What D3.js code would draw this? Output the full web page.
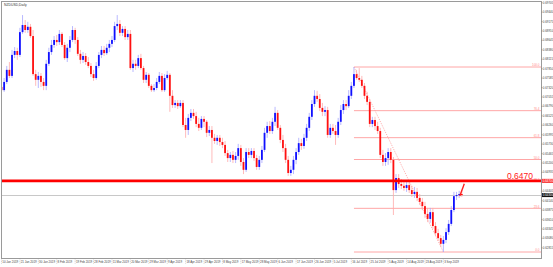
<!DOCTYPE html>
<html>
<head>
<meta charset="utf-8">
<script src="https://cdn.jsdelivr.net/npm/d3@7"></script>
<style>
  html, body { margin: 0; padding: 0; background: #fff; }
  svg { display: block; font-family: "Liberation Sans", Arial, sans-serif; }
</style>
</head>
<body>
<svg id="chart" width="553" height="267"></svg>
<script>
// NZDUSD daily candles, 10 Jan 2019 .. 12 Sep 2019
const symbol = "NZDUSD,Daily";
const firstDay = new Date(2019, 0, 10);
const lastDay = new Date(2019, 8, 13);

const opens = [
  0.6734,0.6725,0.6748,0.6782,0.6765,0.6824,0.6835,0.6824,0.6888,0.6908,
  0.6894,0.6903,0.6877,0.6770,0.6754,0.6765,0.6748,0.6737,0.6799,0.6832,
  0.6852,0.6866,0.6860,0.6883,0.6852,0.6815,0.6844,0.6866,0.6894,0.6866,
  0.6827,0.6810,0.6821,0.6804,0.6793,0.6770,0.6759,0.6793,0.6824,0.6838,
  0.6829,0.6844,0.6855,0.6866,0.6905,0.6911,0.6886,0.6897,0.6874,0.6883,
  0.6787,0.6799,0.6793,0.6815,0.6787,0.6754,0.6768,0.6737,0.6725,0.6731,
  0.6748,0.6765,0.6725,0.6759,0.6768,0.6709,0.6683,0.6689,0.6680,0.6689,
  0.6627,0.6613,0.6647,0.6661,0.6652,0.6630,0.6619,0.6644,0.6636,0.6605,
  0.6613,0.6591,0.6582,0.6591,0.6579,0.6571,0.6548,0.6534,0.6543,0.6529,
  0.6540,0.6562,0.6523,0.6501,0.6551,0.6543,0.6554,0.6534,0.6509,0.6529,
  0.6557,0.6605,0.6624,0.6610,0.6636,0.6661,0.6619,0.6585,0.6562,0.6529,
  0.6492,0.6501,0.6529,0.6551,0.6576,0.6568,0.6591,0.6619,0.6650,0.6686,
  0.6709,0.6700,0.6675,0.6664,0.6669,0.6599,0.6619,0.6610,0.6599,0.6636,
  0.6669,0.6686,0.6680,0.6709,0.6737,0.6770,0.6759,0.6754,0.6737,0.6709,
  0.6692,0.6630,0.6641,0.6624,0.6610,0.6543,0.6523,0.6534,0.6551,0.6529,
  0.6444,0.6478,0.6461,0.6456,0.6450,0.6458,0.6444,0.6433,0.6439,0.6422,
  0.6411,0.6399,0.6377,0.6363,0.6382,0.6343,0.6323,0.6309,0.6293,0.6304,
  0.6326,0.6349,0.6388,0.6427,0.6430,0.6433
];
const highs = [
  0.6742,0.6759,0.6793,0.6804,0.6838,0.6846,0.6844,0.6900,0.6936,0.6922,
  0.6917,0.6911,0.6894,0.6782,0.6776,0.6773,0.6759,0.6810,0.6844,0.6866,
  0.6877,0.6880,0.6894,0.6888,0.6860,0.6855,0.6877,0.6905,0.6900,0.6874,
  0.6838,0.6832,0.6829,0.6818,0.6801,0.6782,0.6804,0.6832,0.6849,0.6849,
  0.6855,0.6866,0.6877,0.6917,0.6936,0.6922,0.6905,0.6905,0.6894,0.6894,
  0.6810,0.6810,0.6824,0.6827,0.6793,0.6776,0.6773,0.6742,0.6742,0.6759,
  0.6776,0.6773,0.6770,0.6779,0.6773,0.6725,0.6697,0.6697,0.6697,0.6697,
  0.6647,0.6658,0.6672,0.6672,0.6664,0.6647,0.6652,0.6652,0.6641,0.6624,
  0.6624,0.6602,0.6599,0.6599,0.6591,0.6582,0.6557,0.6551,0.6554,0.6551,
  0.6574,0.6571,0.6534,0.6562,0.6562,0.6562,0.6562,0.6543,0.6540,0.6568,
  0.6619,0.6636,0.6638,0.6647,0.6678,0.6669,0.6627,0.6599,0.6574,0.6540,
  0.6512,0.6540,0.6562,0.6591,0.6588,0.6602,0.6630,0.6661,0.6697,0.6725,
  0.6723,0.6714,0.6689,0.6680,0.6678,0.6630,0.6630,0.6627,0.6647,0.6683,
  0.6697,0.6697,0.6725,0.6748,0.6790,0.6782,0.6787,0.6765,0.6745,0.6720,
  0.6700,0.6650,0.6650,0.6636,0.6619,0.6557,0.6548,0.6562,0.6562,0.6537,
  0.6489,0.6489,0.6475,0.6470,0.6472,0.6470,0.6456,0.6453,0.6450,0.6433,
  0.6422,0.6411,0.6394,0.6394,0.6394,0.6354,0.6335,0.6318,0.6315,0.6337,
  0.6360,0.6399,0.6439,0.6439,0.6442,0.6444
];
const lows = [
  0.6711,0.6720,0.6742,0.6759,0.6759,0.6815,0.6810,0.6818,0.6883,0.6886,
  0.6886,0.6872,0.6765,0.6737,0.6731,0.6734,0.6725,0.6725,0.6793,0.6824,
  0.6844,0.6849,0.6852,0.6846,0.6810,0.6804,0.6832,0.6860,0.6855,0.6821,
  0.6799,0.6801,0.6796,0.6787,0.6762,0.6751,0.6754,0.6787,0.6815,0.6821,
  0.6824,0.6832,0.6846,0.6860,0.6894,0.6877,0.6877,0.6866,0.6866,0.6782,
  0.6776,0.6782,0.6787,0.6782,0.6745,0.6745,0.6731,0.6720,0.6720,0.6725,
  0.6742,0.6720,0.6720,0.6754,0.6664,0.6675,0.6675,0.6672,0.6675,0.6621,
  0.6591,0.6599,0.6638,0.6644,0.6621,0.6610,0.6613,0.6621,0.6593,0.6596,
  0.6520,0.6574,0.6571,0.6568,0.6562,0.6540,0.6523,0.6523,0.6520,0.6520,
  0.6529,0.6512,0.6489,0.6495,0.6534,0.6534,0.6526,0.6501,0.6501,0.6520,
  0.6551,0.6591,0.6602,0.6602,0.6624,0.6613,0.6576,0.6551,0.6520,0.6484,
  0.6484,0.6489,0.6517,0.6543,0.6557,0.6560,0.6582,0.6610,0.6641,0.6678,
  0.6692,0.6666,0.6652,0.6652,0.6591,0.6591,0.6602,0.6571,0.6591,0.6627,
  0.6658,0.6669,0.6675,0.6700,0.6731,0.6754,0.6748,0.6731,0.6700,0.6683,
  0.6621,0.6621,0.6613,0.6602,0.6534,0.6512,0.6512,0.6515,0.6520,0.6374,
  0.6436,0.6450,0.6447,0.6442,0.6439,0.6436,0.6425,0.6422,0.6413,0.6402,
  0.6388,0.6366,0.6354,0.6352,0.6335,0.6315,0.6301,0.6284,0.6270,0.6295,
  0.6318,0.6343,0.6382,0.6416,0.6422,0.6425
];
const closes = [
  0.6725,0.6748,0.6782,0.6765,0.6824,0.6835,0.6824,0.6888,0.6908,0.6894,
  0.6903,0.6877,0.6770,0.6754,0.6765,0.6748,0.6737,0.6799,0.6832,0.6852,
  0.6866,0.6860,0.6883,0.6852,0.6815,0.6844,0.6866,0.6894,0.6866,0.6827,
  0.6810,0.6821,0.6804,0.6793,0.6770,0.6759,0.6793,0.6824,0.6838,0.6829,
  0.6844,0.6855,0.6866,0.6905,0.6911,0.6886,0.6897,0.6874,0.6883,0.6787,
  0.6799,0.6793,0.6815,0.6787,0.6754,0.6768,0.6737,0.6725,0.6731,0.6748,
  0.6765,0.6725,0.6759,0.6768,0.6709,0.6683,0.6689,0.6680,0.6689,0.6627,
  0.6613,0.6647,0.6661,0.6652,0.6630,0.6619,0.6644,0.6636,0.6605,0.6613,
  0.6591,0.6582,0.6591,0.6579,0.6571,0.6548,0.6534,0.6543,0.6529,0.6540,
  0.6562,0.6523,0.6501,0.6551,0.6543,0.6554,0.6534,0.6509,0.6529,0.6557,
  0.6605,0.6624,0.6610,0.6636,0.6661,0.6619,0.6585,0.6562,0.6529,0.6492,
  0.6501,0.6529,0.6551,0.6576,0.6568,0.6591,0.6619,0.6650,0.6686,0.6709,
  0.6700,0.6675,0.6664,0.6669,0.6599,0.6619,0.6610,0.6599,0.6636,0.6669,
  0.6686,0.6680,0.6709,0.6737,0.6770,0.6759,0.6754,0.6737,0.6709,0.6692,
  0.6630,0.6641,0.6624,0.6610,0.6543,0.6523,0.6534,0.6551,0.6529,0.6444,
  0.6478,0.6461,0.6456,0.6450,0.6458,0.6444,0.6433,0.6439,0.6422,0.6411,
  0.6399,0.6377,0.6363,0.6382,0.6343,0.6323,0.6309,0.6293,0.6304,0.6326,
  0.6349,0.6388,0.6427,0.6430,0.6433,0.6430
];

// time axis labels (every 7 bars)
const timeLabels = [
  "10 Jan 2019","21 Jan 2019","30 Jan 2019","8 Feb 2019","19 Feb 2019","28 Feb 2019",
  "11 Mar 2019","20 Mar 2019","29 Mar 2019","9 Apr 2019","18 Apr 2019","29 Apr 2019",
  "8 May 2019","17 May 2019","28 May 2019","6 Jun 2019","17 Jun 2019","26 Jun 2019",
  "5 Jul 2019","16 Jul 2019","25 Jul 2019","5 Aug 2019","14 Aug 2019","23 Aug 2019",
  "3 Sep 2019"
];

// price scale labels
const priceTicks = [
  0.69705,0.69440,0.69175,0.68910,0.68645,0.68380,0.68115,0.67850,0.67585,0.67320,
  0.67055,0.66790,0.66525,0.66260,0.65995,0.65730,0.65465,0.65200,0.64935,0.64670,
  0.64405,0.64140,0.63875,0.63610,0.63345,0.63080,0.62815
];

// Fibonacci retracement from the July high to the September low
const fibHigh = 0.6790;
const fibLow = 0.6270;
const fibLevels = [0, 23.6, 38.2, 50.0, 61.8, 76.4, 100.0];
const fibStartBar = 134;

const keyLevel = 0.6470;
const bidPrice = 0.6430;

const plot = { left: 1, top: 1, right: 541, bottom: 258 };

const svg = d3.select("#chart");

const weekdays = d3.timeDay.range(firstDay, lastDay).filter(d => d.getDay() !== 0 && d.getDay() !== 6);
const bars = weekdays.map((d, i) => ({
  date: d, i: i, o: opens[i], h: highs[i], l: lows[i], c: closes[i]
}));

const x = d3.scaleLinear().domain([0, bars.length - 1]).range([1.5, 461.8]);
const y = d3.scaleLinear().domain([fibLow, fibHigh]).range([252, 67]);

const fmtDay = d3.timeFormat("%-d %b %Y");

// frame
svg.append("rect")
  .attr("x", plot.left + 0.5).attr("y", plot.top + 0.5)
  .attr("width", plot.right - plot.left).attr("height", plot.bottom - plot.top)
  .attr("fill", "#fff").attr("stroke", "#9a9a9a").attr("stroke-width", 1);

svg.append("clipPath").attr("id", "clip")
  .append("rect").attr("x", plot.left + 1).attr("y", plot.top + 1)
  .attr("width", plot.right - plot.left - 1).attr("height", plot.bottom - plot.top - 1);

const g = svg.append("g").attr("clip-path", "url(#clip)");

// bid line
g.append("line")
  .attr("x1", plot.left).attr("x2", plot.right)
  .attr("y1", Math.round(y(bidPrice)) + 0.5).attr("y2", Math.round(y(bidPrice)) + 0.5)
  .attr("stroke", "#c8c8c8").attr("stroke-width", 1);

// fib levels
const fx0 = x(fibStartBar);
fibLevels.forEach(lv => {
  const p = fibLow + (fibHigh - fibLow) * lv / 100;
  g.append("line")
    .attr("x1", fx0).attr("x2", plot.right)
    .attr("y1", y(p)).attr("y2", y(p))
    .attr("stroke", "#ff9c9c").attr("stroke-width", 0.9);
  g.append("text")
    .attr("x", plot.right - 1.5).attr("y", y(p) - 0.8)
    .attr("text-anchor", "end")
    .attr("font-size", 3)
    .attr("fill", "#ff8a8a")
    .text(lv.toFixed(1));
});
// fib trend line
g.append("line")
  .attr("x1", x(fibStartBar)).attr("y1", y(fibHigh))
  .attr("x2", x(168)).attr("y2", y(fibLow))
  .attr("stroke", "#ff9c9c").attr("stroke-width", 0.8)
  .attr("stroke-dasharray", "1.2,1.2");

// candles
const candle = g.append("g").selectAll("g").data(bars).join("g");
candle.append("line")
  .attr("x1", d => x(d.i)).attr("x2", d => x(d.i))
  .attr("y1", d => y(d.h)).attr("y2", d => y(d.l))
  .attr("stroke", d => d.c >= d.o ? "#a7a7ff" : "#ffaaaa")
  .attr("stroke-width", 0.8);
candle.append("rect")
  .attr("x", d => x(d.i) - 0.9)
  .attr("width", 1.8)
  .attr("y", d => y(Math.max(d.o, d.c)))
  .attr("height", d => Math.max(0.6, Math.abs(y(d.o) - y(d.c))))
  .attr("fill", d => d.c >= d.o ? "#1010ff" : "#ff1010");

// key level
g.append("line")
  .attr("x1", plot.left).attr("x2", plot.right)
  .attr("y1", y(keyLevel)).attr("y2", y(keyLevel))
  .attr("stroke", "#ff0000").attr("stroke-width", 2.6);
svg.append("text")
  .attr("x", 533).attr("y", y(keyLevel) - 2)
  .attr("text-anchor", "end")
  .attr("font-size", 8.5)
  .attr("fill", "#ff2020")
  .text(keyLevel.toFixed(4));

// arrow from last candle to the level
const last = bars[bars.length - 1];
g.append("line")
  .attr("x1", x(last.i) - 2).attr("y1", y(last.c) + 1)
  .attr("x2", x(last.i) + 2.5).attr("y2", y(keyLevel) + 3)
  .attr("stroke", "#ff2020").attr("stroke-width", 1.4);

// title
svg.append("text")
  .attr("x", 4).attr("y", 6)
  .attr("font-size", 3.4).attr("fill", "#333")
  .text(symbol);

// price axis
const axisG = svg.append("g");
priceTicks.forEach(p => {
  const yy = y(p);
  axisG.append("line")
    .attr("x1", plot.right).attr("x2", plot.right + 1.5)
    .attr("y1", yy).attr("y2", yy)
    .attr("stroke", "#888").attr("stroke-width", 0.6);
  axisG.append("text")
    .attr("x", plot.right + 1.8).attr("y", yy + 1)
    .attr("font-size", 2.9).attr("fill", "#444")
    .text(p.toFixed(5));
});
// highlighted key level and bid on the price axis
axisG.append("rect")
  .attr("x", plot.right + 1).attr("y", y(keyLevel) - 2)
  .attr("width", 11).attr("height", 4).attr("fill", "#ff3030");
axisG.append("text")
  .attr("x", plot.right + 1.8).attr("y", y(keyLevel) + 1)
  .attr("font-size", 2.9).attr("fill", "#fff")
  .text(keyLevel.toFixed(5));
axisG.append("rect")
  .attr("x", plot.right + 1).attr("y", y(bidPrice) - 2)
  .attr("width", 11).attr("height", 4).attr("fill", "#111");
axisG.append("text")
  .attr("x", plot.right + 1.8).attr("y", y(bidPrice) + 1)
  .attr("font-size", 2.9).attr("fill", "#fff")
  .text(bidPrice.toFixed(5));

// time axis
const tG = svg.append("g");
timeLabels.forEach(lbl => {
  const idx = bars.findIndex(b => fmtDay(b.date) === lbl);
  if (idx < 0) return;
  const xx = x(idx);
  tG.append("line")
    .attr("x1", xx).attr("x2", xx)
    .attr("y1", plot.bottom).attr("y2", plot.bottom + 6)
    .attr("stroke", "#999").attr("stroke-width", 0.5)
    .attr("stroke-dasharray", "0.8,0.8");
  tG.append("text")
    .attr("x", xx + 0.8).attr("y", plot.bottom + 4.5)
    .attr("font-size", 2.9).attr("fill", "#444")
    .text(lbl);
});
</script>
</body>
</html>
